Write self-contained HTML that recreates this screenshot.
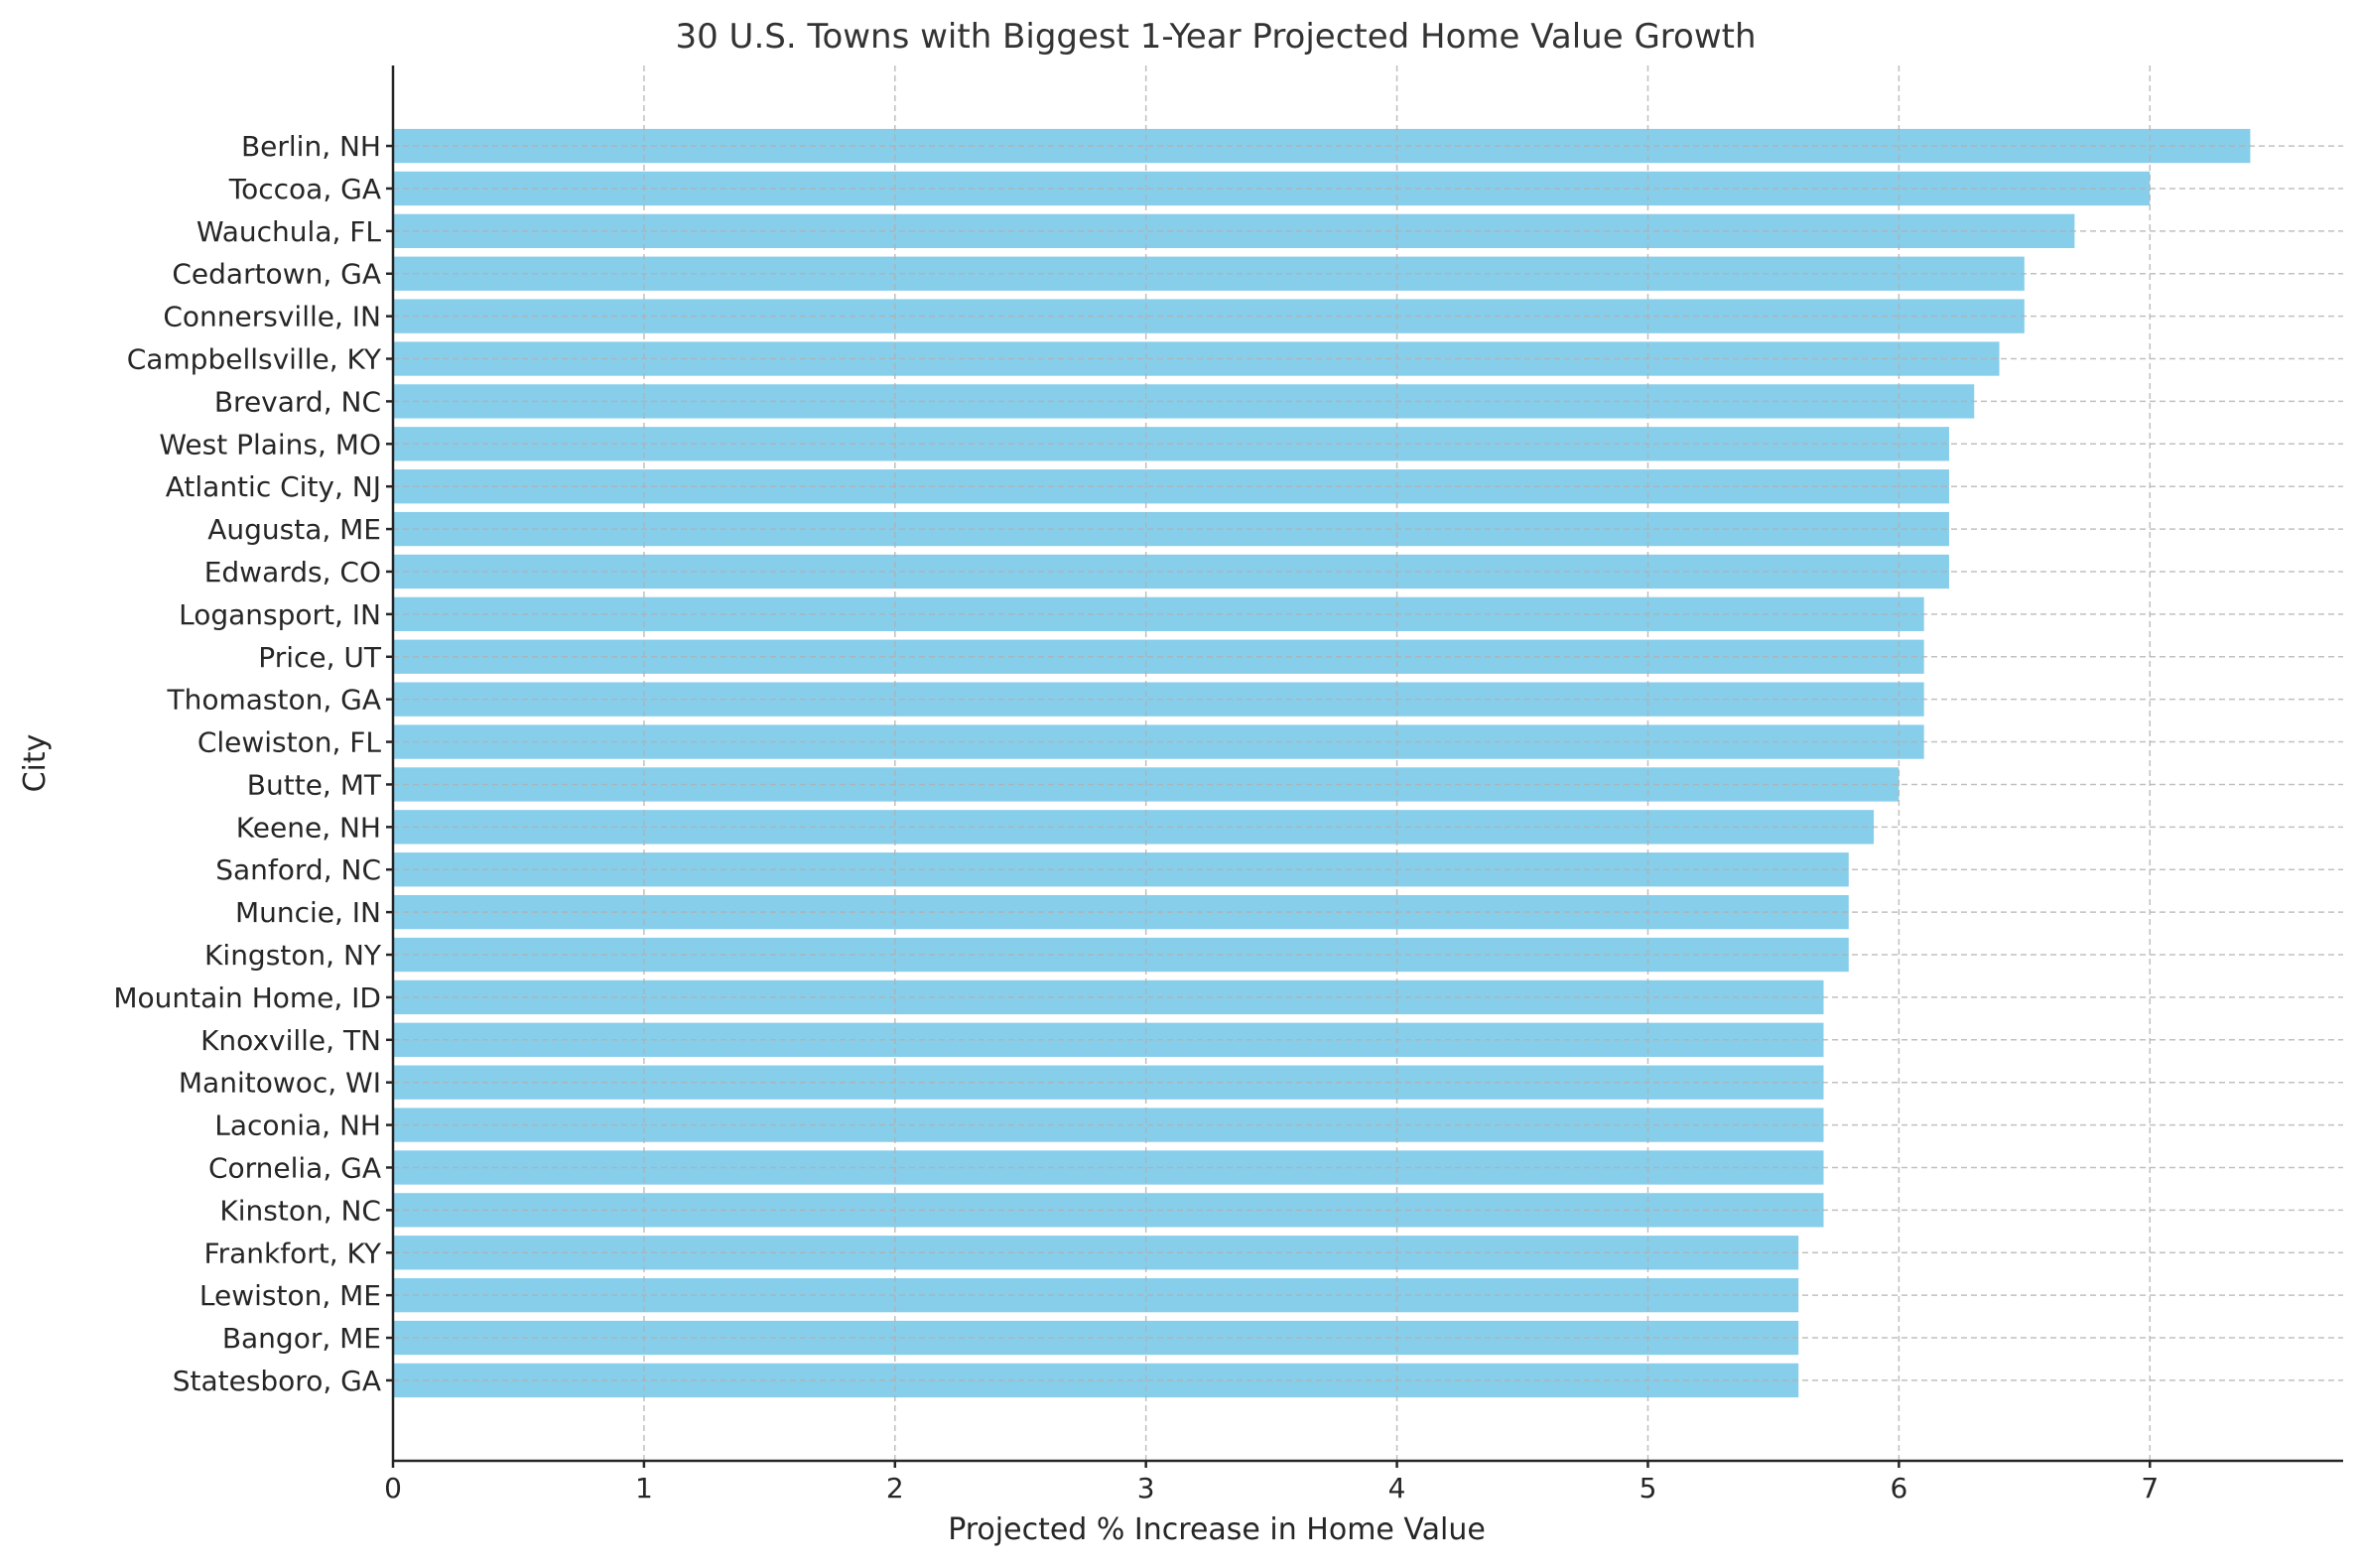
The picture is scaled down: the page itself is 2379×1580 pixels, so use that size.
<!DOCTYPE html>
<html><head><meta charset="utf-8"><style>
html,body{margin:0;padding:0;background:#fff;}
svg{display:block;font-family:"DejaVu Sans","Liberation Sans",sans-serif;}
</style></head><body>
<svg id="chart" width="2379" height="1580" viewBox="0 0 2379 1580">
<text x="1225" y="48" font-size="34" fill="#333" text-anchor="middle">30 U.S. Towns with Biggest 1-Year Projected Home Value Growth</text>
<g id="bars"></g>
<g id="grid"></g>
<g id="yticks"></g>
<g id="xticks"></g>
<line x1="396" y1="66" x2="396" y2="1472" stroke="#262626" stroke-width="2.5"/>
<line x1="395" y1="1472" x2="2361" y2="1472" stroke="#262626" stroke-width="2.5"/>
<text x="1226" y="1551" font-size="30" fill="#262626" text-anchor="middle">Projected % Increase in Home Value</text>
<text x="0" y="0" font-size="30" fill="#262626" text-anchor="middle" transform="translate(45,769) rotate(-90)">City</text>
</svg>
<script>
const cities = ["Berlin, NH","Toccoa, GA","Wauchula, FL","Cedartown, GA","Connersville, IN","Campbellsville, KY","Brevard, NC","West Plains, MO","Atlantic City, NJ","Augusta, ME","Edwards, CO","Logansport, IN","Price, UT","Thomaston, GA","Clewiston, FL","Butte, MT","Keene, NH","Sanford, NC","Muncie, IN","Kingston, NY","Mountain Home, ID","Knoxville, TN","Manitowoc, WI","Laconia, NH","Cornelia, GA","Kinston, NC","Frankfort, KY","Lewiston, ME","Bangor, ME","Statesboro, GA"];
const values = [7.4,7.0,6.7,6.5,6.5,6.4,6.3,6.2,6.2,6.2,6.2,6.1,6.1,6.1,6.1,6.0,5.9,5.8,5.8,5.8,5.7,5.7,5.7,5.7,5.7,5.7,5.6,5.6,5.6,5.6];
const xTicks = [0,1,2,3,4,5,6,7];

const NS="http://www.w3.org/2000/svg";
const L=396,R=2361,T=66,B=1472;
const xMax=Math.max(...values)*1.05;
const xs=v=>L+(v/xMax)*(R-L);
const n=cities.length;
const yMin=-0.4-0.05*(n-1+0.8), yMax=n-1+0.4+0.05*(n-1+0.8);
const ys=i=>T+(i-yMin)/(yMax-yMin)*(B-T);
const step=ys(1)-ys(0);
function mk(tag,attrs,parent){const e=document.createElementNS(NS,tag);for(const k in attrs)e.setAttribute(k,attrs[k]);parent.appendChild(e);return e;}
const gb=document.getElementById('bars'),gg=document.getElementById('grid'),gy=document.getElementById('yticks'),gx=document.getElementById('xticks');
cities.forEach((c,i)=>{
  const y=ys(i);
  const r=mk('rect',{x:xs(0),y:y-step*0.4,width:xs(values[i])-xs(0),height:step*0.8,fill:'#87ceeb'},gb);
  
  
  const gl=mk('line',{x1:L,x2:R,y1:y,y2:y,stroke:'#b0b0b0','stroke-width':1.5,'stroke-dasharray':'6,4','stroke-opacity':0.8},gg);
  
  
  const tk=mk('line',{x1:L-7,x2:L,y1:y,y2:y,stroke:'#262626','stroke-width':2.5},gy);
  
  
  const t=mk('text',{x:L-12,y:y+10,'font-size':28,fill:'#262626','text-anchor':'end'},gy);
  t.textContent=c;
  
  
});
xTicks.forEach(v=>{
  const x=xs(v);
  const gl=mk('line',{x1:x,x2:x,y1:T,y2:B,stroke:'#b0b0b0','stroke-width':1.5,'stroke-dasharray':'6,4','stroke-opacity':0.8},gg);
  
  
  const tk=mk('line',{x1:x,x2:x,y1:B,y2:B+7,stroke:'#262626','stroke-width':2.5},gx);
  
  
  const t=mk('text',{x:x,y:B+37,'font-size':28,fill:'#262626','text-anchor':'middle'},gx);
  t.textContent=String(v);
  
  
});
</script>
</body></html>
